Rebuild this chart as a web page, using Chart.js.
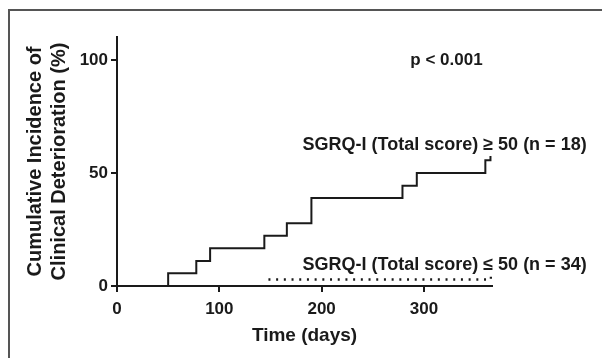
<!DOCTYPE html>
<html>
<head>
  <meta charset="UTF-8">
  <title>Cumulative incidence of clinical deterioration</title>
  <style type="text/css">
    html, body { margin: 0; padding: 0; background: #fff; }
    #chart-container { position: relative; width: 602px; height: 358px; }
    #frame {
      position: absolute; left: 8px; top: 9px; right: 0; bottom: 0;
      border-left: 2px solid #555; border-top: 2px solid #555;
      pointer-events: none;
    }
  </style>
  <script type="text/javascript" src="https://cdn.jsdelivr.net/npm/chart.js@4.4.1/dist/chart.umd.min.js"></script>
</head>
<body>
  <div id="chart-container">
    <canvas id="mycanvas" width="602" height="358"></canvas>
    <div id="frame"></div>
  </div>

<script>
// SGRQ-I >= 50 group (n = 18): time in days, cumulative incidence in %
var highDays = [0, 50, 77.5, 91, 144, 166, 190, 279, 293, 360, 364, 365];
var highPct  = [0, 5.6, 11.1, 16.7, 22.2, 27.8, 38.9, 44.4, 50, 55.6, 55.6, 57.5];

// SGRQ-I < 50 group (n = 34), first event at day 148
var lowDays = [148, 365, 365.5];
var lowPct  = [2.9, 2.9, 4.2];

var xTicks = [0, 100, 200, 300];
var yTicks = [0, 50, 100];

var pText = 'p < 0.001';
var highLabel = 'SGRQ-I (Total score) \u2265 50 (n = 18)';
var lowLabel = 'SGRQ-I (Total score) \u2264 50 (n = 34)';

function toPoints(xs, ys) {
  var pts = [];
  for (var i in xs) pts.push({x: xs[i], y: ys[i]});
  return pts;
}

var fontFamily = '"Liberation Sans", Arial, sans-serif';
var ink = '#1a1a1a';

// draw the p value and group labels inside the plot
var textPlugin = {
  id: 'groupText',
  afterDraw: function(chart) {
    var ctx = chart.ctx;
    var xs = chart.scales.x, ys = chart.scales.y;
    ctx.save();
    ctx.fillStyle = ink;
    ctx.textBaseline = 'middle';
    ctx.font = 'bold 17px ' + fontFamily;
    ctx.textAlign = 'center';
    ctx.fillText(pText, xs.getPixelForValue(322), ys.getPixelForValue(100));
    ctx.font = 'bold 18px ' + fontFamily;
    ctx.textAlign = 'right';
    ctx.fillText(highLabel, xs.getPixelForValue(459), ys.getPixelForValue(62.4));
    ctx.fillText(lowLabel, xs.getPixelForValue(459), ys.getPixelForValue(9.5));
    ctx.restore();
  }
};

var ctx = document.getElementById('mycanvas');

var chart = new Chart(ctx, {
  type: 'line',
  data: {
    datasets: [
      {
        label: 'SGRQ-I >= 50',
        data: toPoints(highDays, highPct),
        stepped: 'before',
        borderColor: ink,
        borderWidth: 2,
        pointRadius: 0,
        fill: false
      },
      {
        label: 'SGRQ-I < 50',
        data: toPoints(lowDays, lowPct),
        stepped: 'before',
        borderColor: ink,
        borderWidth: 2.5,
        borderDash: [2, 5.7],
        pointRadius: 0,
        fill: false
      }
    ]
  },
  options: {
    responsive: false,
    animation: false,
    maintainAspectRatio: false,
    layout: { padding: { left: 0, right: 110, top: 37, bottom: 0 } },
    plugins: { legend: { display: false }, tooltip: { enabled: false } },
    scales: {
      x: {
        type: 'linear',
        min: 0,
        max: 366.5,
        afterFit: function(scale) { scale.height = 72; },
        afterBuildTicks: function(scale) {
          scale.ticks = xTicks.map(function(v) { return {value: v}; });
        },
        border: { display: true, color: ink, width: 2 },
        grid: { drawOnChartArea: false, drawTicks: true, tickLength: 6, color: ink, lineWidth: 2 },
        ticks: { color: ink, padding: 7, maxRotation: 0, font: { family: fontFamily, size: 17, weight: 'bold' } },
        title: {
          display: true,
          text: 'Time (days)',
          color: ink,
          padding: { top: 0, bottom: 11 },
          font: { family: fontFamily, size: 19, weight: 'bold' }
        }
      },
      y: {
        type: 'linear',
        min: 0,
        max: 110.2,
        afterFit: function(scale) { scale.width = 117; },
        afterBuildTicks: function(scale) {
          scale.ticks = yTicks.map(function(v) { return {value: v}; });
        },
        border: { display: true, color: ink, width: 2 },
        grid: { drawOnChartArea: false, drawTicks: true, tickLength: 6, color: ink, lineWidth: 2 },
        ticks: { color: ink, padding: 3, font: { family: fontFamily, size: 17, weight: 'bold' } },
        title: {
          display: true,
          text: ['Cumulative Incidence of', 'Clinical Deterioration (%)'],
          color: ink,
          padding: { top: 23, bottom: 0 },
          font: { family: fontFamily, size: 20, weight: 'bold', lineHeight: 1.2 }
        }
      }
    }
  },
  plugins: [textPlugin]
});
</script>
</body>
</html>
